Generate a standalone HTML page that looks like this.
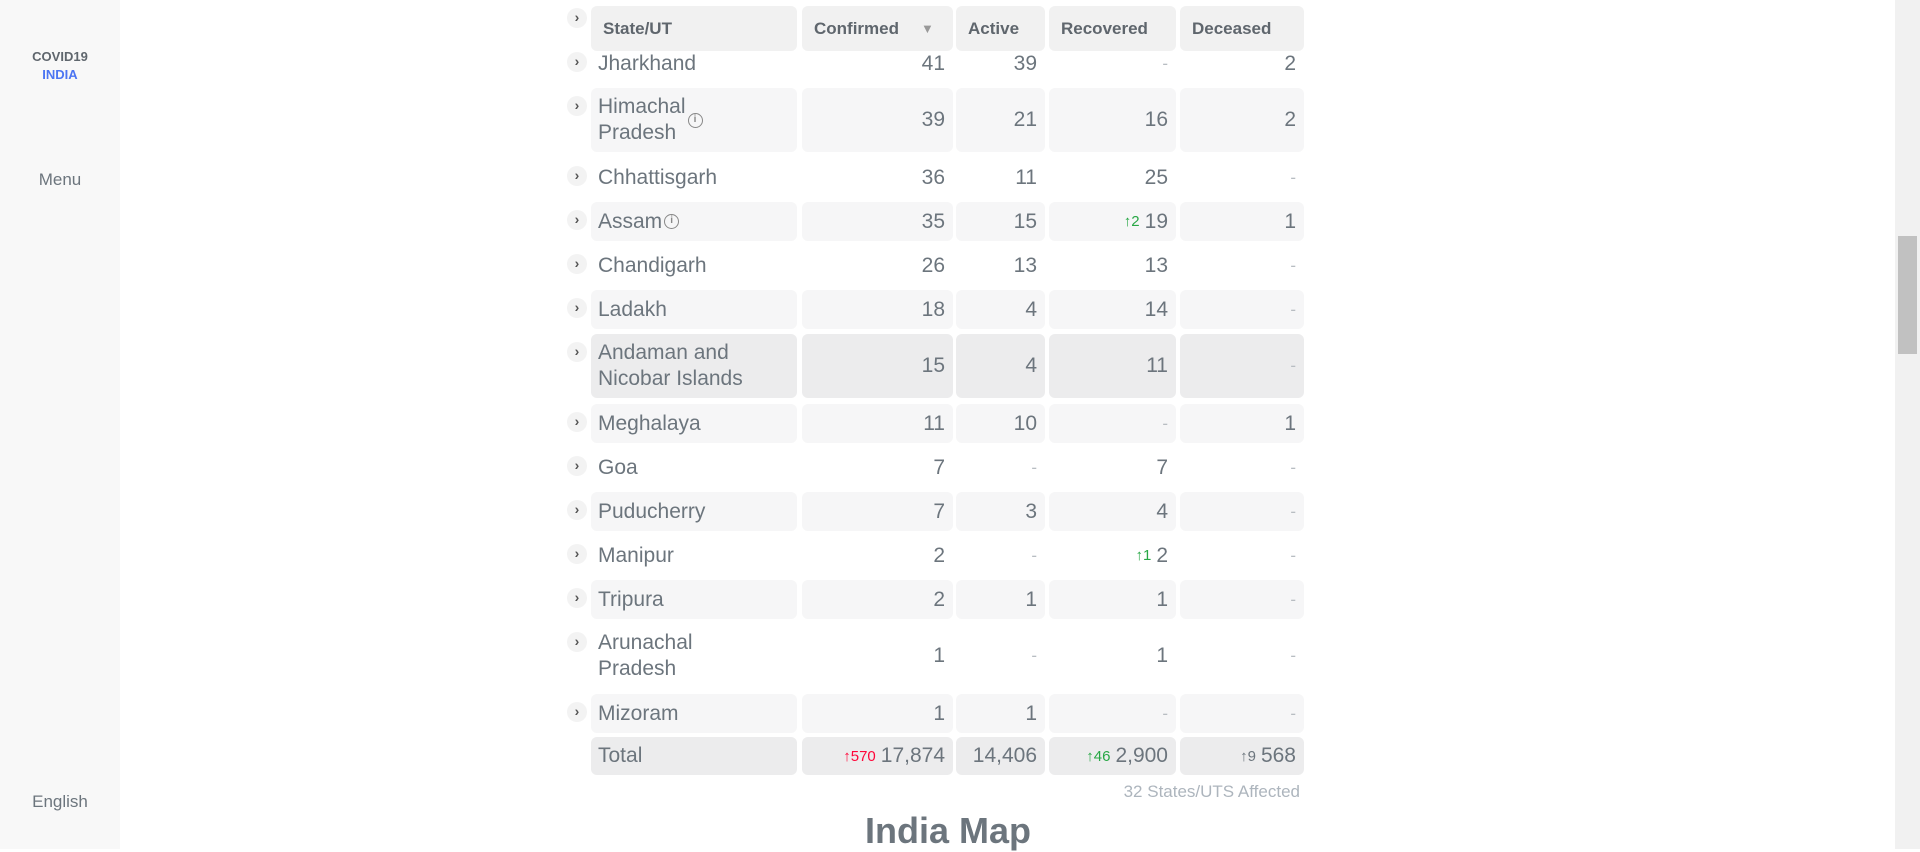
<!DOCTYPE html>
<html><head><meta charset="utf-8">
<style>
*{margin:0;padding:0;box-sizing:border-box}
body{width:1920px;height:849px;overflow:hidden;background:#fff;font-family:"Liberation Sans",sans-serif;color:#6c757d;position:relative}
.sidebar{position:absolute;left:0;top:0;width:120px;height:849px;background:#f8f8f8}
.sb{position:absolute;left:0;width:120px;text-align:center}
.scroll{position:absolute;right:0;top:0;width:25px;height:849px;background:#f1f1f1}
.thumb{position:absolute;right:3px;top:236px;width:19px;height:118px;background:#c1c1c1}
.cell{position:absolute;border-radius:6px;display:flex;align-items:center;font-size:21px;color:#6c757d}
.num{justify-content:flex-end;padding-right:8px}
.st{padding-left:7px;line-height:26px}
.hd{background:#f1f1f1;font-weight:bold;font-size:17px;color:#5f666d}
.chev{position:absolute;left:567px;width:20px;height:20px;border-radius:50%;background:#f3f3f3;font-size:14px;text-align:center;line-height:19px;color:#555;font-weight:bold}
.d{font-size:15px;margin-right:5px}
.g{color:#28a745}.r{color:#ff073a}.k{color:#6c757d}
.info{display:inline-block;width:15px;height:15px;border:1.5px solid #888;border-radius:50%;font-size:10px;line-height:12px;text-align:center;vertical-align:middle;margin-left:2px;color:#888;font-weight:bold}
</style></head><body>
<div class="sidebar">
<div class="sb" style="top:49px;font-size:13px;font-weight:bold;color:#5f666d">COVID19</div>
<div class="sb" style="top:67px;font-size:13px;font-weight:bold;color:#4c75f2">INDIA</div>
<div class="sb" style="top:170px;font-size:17px">Menu</div>
<div class="sb" style="top:792px;font-size:17px">English</div>
</div>
<div class="scroll"><div class="thumb"></div></div>
<div id="table"></div>
<div style="position:absolute;right:620px;top:782px;font-size:17px;color:#adb5bd">32 States/UTS Affected</div>
<div style="position:absolute;left:0;width:1896px;text-align:center;top:810px;font-size:36px;font-weight:bold;color:#6c757d">India Map</div>
<script>
const names=["Jharkhand","Himachal<br>Pradesh","Chhattisgarh","Assam","Chandigarh","Ladakh","Andaman and<br>Nicobar Islands","Meghalaya","Goa","Puducherry","Manipur","Tripura","Arunachal<br>Pradesh","Mizoram"];
const infoFlags=[0,1,0,1,0,0,0,0,0,0,0,0,0,0];
const confirmed=["41","39","36","35","26","18","15","11","7","7","2","2","1","1"];
const active=["39","21","11","15","13","4","4","10","-","3","-","1","-","1"];
const recovered=["-","16","25","19","13","14","11","-","7","4","2","1","1","-"];
const recDelta=["","","","2","","","","","","","1","","",""];
const deceased=["2","2","-","1","-","-","-","1","-","-","-","-","-","-"];
const cols=[[591,206],[802,151],[956,89],[1049,127],[1180,124]];
const T=document.getElementById('table');
function mk(cls,x,y,w,h,html,bg,name,inter){
 const e=document.createElement('div');e.className=cls;
 e.style.cssText=`left:${x}px;top:${y}px;width:${w}px;height:${h}px;background:${bg}`;
 e.innerHTML=html;
 
 
 T.appendChild(e);return e;}
let y=44;
names.forEach((n,i)=>{
 const two=n.includes('<br>');const h=two?64:39;
 let bg=i%2?'#f6f6f7':'#fff';if(i===6)bg='#ececed';
 const vals=[n+(infoFlags[i]?'<span class="info">i</span>':''),confirmed[i],active[i],
  (recDelta[i]?`<span class="d g">↑${recDelta[i]}</span>`:'')+recovered[i],deceased[i]];
 vals.forEach((v,c)=>{
  const dash=v==='-';
  mk('cell '+(c?'num':'st'),cols[c][0],y,cols[c][1],h,dash?'<span style="color:#b8bdc2;font-size:17px">-</span>':v,bg,'row-cell',c===0?'true':'false');
 });
 const ch=mk('chev',567,y+8,20,20,'›','#f3f3f3','expand-chevron','true');ch.style.left='567px';
 y+=h+(two?6:5);
});
// header
const heads=['State/UT','Confirmed<span style="margin-left:22px;font-size:13px;color:#999">▼</span>','Active','Recovered','Deceased'];
heads.forEach((t,c)=>{const e=mk('cell hd',cols[c][0],6,cols[c][1],45,t,'#f1f1f1','column-header','true');e.style.paddingLeft='12px';});
mk('chev',567,8,20,20,'›','#f3f3f3','header-chevron','true');
// total
const tot=['Total','<span class="d r">↑570</span>17,874','14,406','<span class="d g">↑46</span>2,900','<span class="d k">↑9</span>568'];
tot.forEach((t,c)=>mk('cell '+(c?'num':'st'),cols[c][0],737,cols[c][1],38,t,'#ececed','total-cell','false'));
</script>
</body></html>
